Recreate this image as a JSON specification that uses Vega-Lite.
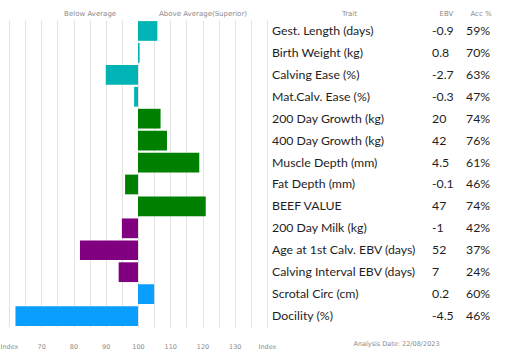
{
  "$schema": "https://vega.github.io/schema/vega-lite/v6.json",
  "padding": {"left": 0, "top": 9, "right": 5, "bottom": 5},
  "background": "white",
  "config": {"view": {"stroke": null}, "font": "Lato"},
  "data": {"values": [
    {"order": 1, "trait": "Gest. Length (days)", "index": 106, "ebv": "-0.9", "acc": "59%", "group": "calving"},
    {"order": 2, "trait": "Birth Weight (kg)", "index": 100.5, "ebv": "0.8", "acc": "70%", "group": "calving"},
    {"order": 3, "trait": "Calving Ease (%)", "index": 90, "ebv": "-2.7", "acc": "63%", "group": "calving"},
    {"order": 4, "trait": "Mat.Calv. Ease (%)", "index": 98.8, "ebv": "-0.3", "acc": "47%", "group": "calving"},
    {"order": 5, "trait": "200 Day Growth (kg)", "index": 107, "ebv": "20", "acc": "74%", "group": "growth"},
    {"order": 6, "trait": "400 Day Growth (kg)", "index": 109, "ebv": "42", "acc": "76%", "group": "growth"},
    {"order": 7, "trait": "Muscle Depth (mm)", "index": 119, "ebv": "4.5", "acc": "61%", "group": "growth"},
    {"order": 8, "trait": "Fat Depth (mm)", "index": 96, "ebv": "-0.1", "acc": "46%", "group": "growth"},
    {"order": 9, "trait": "BEEF VALUE", "index": 121, "ebv": "47", "acc": "74%", "group": "growth"},
    {"order": 10, "trait": "200 Day Milk (kg)", "index": 95, "ebv": "-1", "acc": "42%", "group": "maternal"},
    {"order": 11, "trait": "Age at 1st Calv. EBV (days)", "index": 82, "ebv": "52", "acc": "37%", "group": "maternal"},
    {"order": 12, "trait": "Calving Interval EBV (days)", "index": 94, "ebv": "7", "acc": "24%", "group": "maternal"},
    {"order": 13, "trait": "Scrotal Circ (cm)", "index": 105, "ebv": "0.2", "acc": "60%", "group": "other"},
    {"order": 14, "trait": "Docility (%)", "index": 62, "ebv": "-4.5", "acc": "46%", "group": "other"}
  ]},
  "bounds": "flush",
  "spacing": 5,
  "hconcat": [
    {
      "width": 258,
      "height": 307,
      "resolve": {"axis": {"x": "independent"}},
      "layer": [
        {
          "mark": {"type": "bar"},
          "encoding": {
            "y": {"field": "trait", "type": "nominal", "sort": {"field": "order"}, "axis": null, "scale": {"paddingInner": 0.1, "paddingOuter": 0.05}},
            "x": {"field": "index", "type": "quantitative",
              "scale": {"domain": [60, 140], "nice": false, "zero": false},
              "axis": {"orient": "bottom", "values": [60, 65, 70, 75, 80, 85, 90, 95, 100, 105, 110, 115, 120, 125, 130, 135, 140],
                "labelExpr": "datum.value == 60 || datum.value == 140 ? 'Index' : (datum.value % 10 == 0 ? datum.label : '')",
                "title": null, "domain": false, "ticks": false, "grid": true, "gridColor": "#e3e3e3", "gridWidth": 1,
                "labelFont": "DejaVu Sans", "labelFontSize": 6.5, "labelColor": "#8a8a8a", "labelPadding": 16,
                "labelFlush": false, "labelOverlap": false}},
            "x2": {"datum": 100},
            "color": {"field": "group", "type": "nominal", "legend": null,
              "scale": {"domain": ["calving", "growth", "maternal", "other"], "range": ["#00B4B6", "#008000", "#800080", "#0A9EFF"]}}
          }
        },
        {
          "mark": {"type": "bar", "opacity": 0},
          "encoding": {
            "y": {"field": "trait", "type": "nominal", "sort": {"field": "order"}, "axis": null},
            "x": {"field": "index", "type": "quantitative",
              "axis": {"orient": "top", "values": [85, 120],
                "labelExpr": "datum.value == 85 ? 'Below Average' : 'Above Average(Superior)'",
                "title": null, "domain": false, "ticks": false, "grid": false,
                "labelFont": "DejaVu Sans", "labelFontSize": 7, "labelColor": "#8a8a8a", "labelPadding": 4,
                "labelFlush": false, "labelOverlap": false}},
            "x2": {"datum": 100}
          }
        }
      ]
    },
    {
      "width": 155,
      "height": 307,
      "title": {"text": "Analysis Date: 22/08/2023", "orient": "bottom", "anchor": "middle", "dx": 47, "offset": 14,
        "font": "DejaVu Sans", "fontSize": 6.5, "fontWeight": "normal", "color": "#8a8a8a"},
      "mark": {"type": "text", "align": "left", "baseline": "middle", "font": "Lato", "fontSize": 12.3, "color": "#1e1e1e"},
      "encoding": {
        "y": {"field": "trait", "type": "nominal", "sort": {"field": "order"}, "axis": null, "scale": {"paddingInner": 0.1, "paddingOuter": 0.05}},
        "x": {"datum": "Trait", "type": "nominal", "bandPosition": 0,
          "scale": {"type": "band", "paddingInner": 0, "paddingOuter": 0},
          "axis": {"orient": "top", "title": null, "domain": false, "ticks": false, "labelAngle": 0,
            "labelFont": "DejaVu Sans", "labelFontSize": 7, "labelColor": "#8a8a8a", "labelPadding": 4}},
        "text": {"field": "trait"}
      }
    },
    {
      "width": 29,
      "height": 307,
      "mark": {"type": "text", "align": "left", "baseline": "middle", "font": "Lato", "fontSize": 12.3, "color": "#1e1e1e"},
      "encoding": {
        "y": {"field": "trait", "type": "nominal", "sort": {"field": "order"}, "axis": null, "scale": {"paddingInner": 0.1, "paddingOuter": 0.05}},
        "x": {"datum": "EBV", "type": "nominal", "bandPosition": 0,
          "scale": {"type": "band", "paddingInner": 0, "paddingOuter": 0},
          "axis": {"orient": "top", "title": null, "domain": false, "ticks": false, "labelAngle": 0,
            "labelFont": "DejaVu Sans", "labelFontSize": 7, "labelColor": "#8a8a8a", "labelPadding": 4}},
        "text": {"field": "ebv"}
      }
    },
    {
      "width": 30,
      "height": 307,
      "mark": {"type": "text", "align": "left", "baseline": "middle", "font": "Lato", "fontSize": 12.3, "color": "#1e1e1e"},
      "encoding": {
        "y": {"field": "trait", "type": "nominal", "sort": {"field": "order"}, "axis": null, "scale": {"paddingInner": 0.1, "paddingOuter": 0.05}},
        "x": {"datum": "Acc %", "type": "nominal", "bandPosition": 0,
          "scale": {"type": "band", "paddingInner": 0, "paddingOuter": 0},
          "axis": {"orient": "top", "title": null, "domain": false, "ticks": false, "labelAngle": 0,
            "labelFont": "DejaVu Sans", "labelFontSize": 7, "labelColor": "#8a8a8a", "labelPadding": 4}},
        "text": {"field": "acc"}
      }
    }
  ]
}
